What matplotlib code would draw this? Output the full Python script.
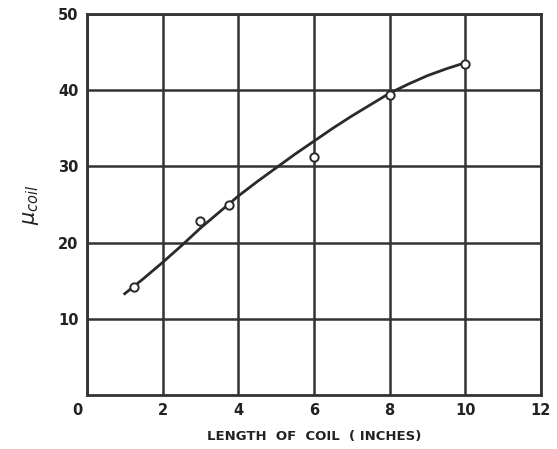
import matplotlib.pyplot as plt
import matplotlib.transforms as mtransforms
import numpy as np

# measured points
length_in = [1.25, 3.0, 3.75, 6.0, 8.0, 10.0]
mu_coil = [14.2, 22.8, 24.9, 31.2, 39.4, 43.4]

# smooth curve drawn through the measurements
curve_x = [1.0, 1.5, 2.0, 2.5, 3.0, 3.5, 4.0, 4.5, 5.0, 5.5, 6.0,
           6.5, 7.0, 7.5, 8.0, 8.5, 9.0, 9.5, 10.0]
curve_y = [13.3, 15.3, 17.4, 19.6, 21.9, 24.0, 26.1, 28.0, 29.8, 31.6, 33.3,
           35.0, 36.6, 38.1, 39.6, 40.8, 41.9, 42.8, 43.6]

xticks = [0, 2, 4, 6, 8, 10, 12]
yticks = [10, 20, 30, 40, 50]

fig = plt.figure(figsize=(5.57, 4.49), dpi=100)
ax = fig.add_axes([0.156, 0.120, 0.815, 0.849])

ax.plot(curve_x, curve_y, color='#2a2a2a', lw=2.0, zorder=3)
ax.plot(length_in, mu_coil, 'o', ms=6, mfc='white', mec='#2a2a2a', mew=1.4, zorder=4)

ax.set_xlim(0, 12)
ax.set_ylim(0, 50)
ax.set_xticks(xticks)
ax.set_yticks(yticks)
ax.set_xticklabels([str(t) for t in xticks])
ax.set_yticklabels([str(t) for t in yticks])
ax.grid(True, color='#333333', lw=1.8)
ax.set_axisbelow(True)
for s in ax.spines.values():
    s.set_color('#333333')
    s.set_linewidth(2.0)
ax.tick_params(length=0, pad=6, labelsize=10.5, colors='#222222')
for lab in ax.get_xticklabels() + ax.get_yticklabels():
    lab.set_fontweight('semibold')
    lab.set_family('DejaVu Sans')
# the origin label sits a little left of the corner
origin = ax.get_xticklabels()[0]
origin.set_transform(origin.get_transform() +
                     mtransforms.ScaledTranslation(-0.1, 0, fig.dpi_scale_trans))

ax.set_xlabel('LENGTH  OF  COIL  ( INCHES)', fontsize=9.5, fontweight='semibold',
              color='#222222', labelpad=8)
ax.set_ylabel(r'$\mu_{coil}$', fontsize=15, color='#222222', labelpad=12)

fig.savefig('out.png', dpi=100)
